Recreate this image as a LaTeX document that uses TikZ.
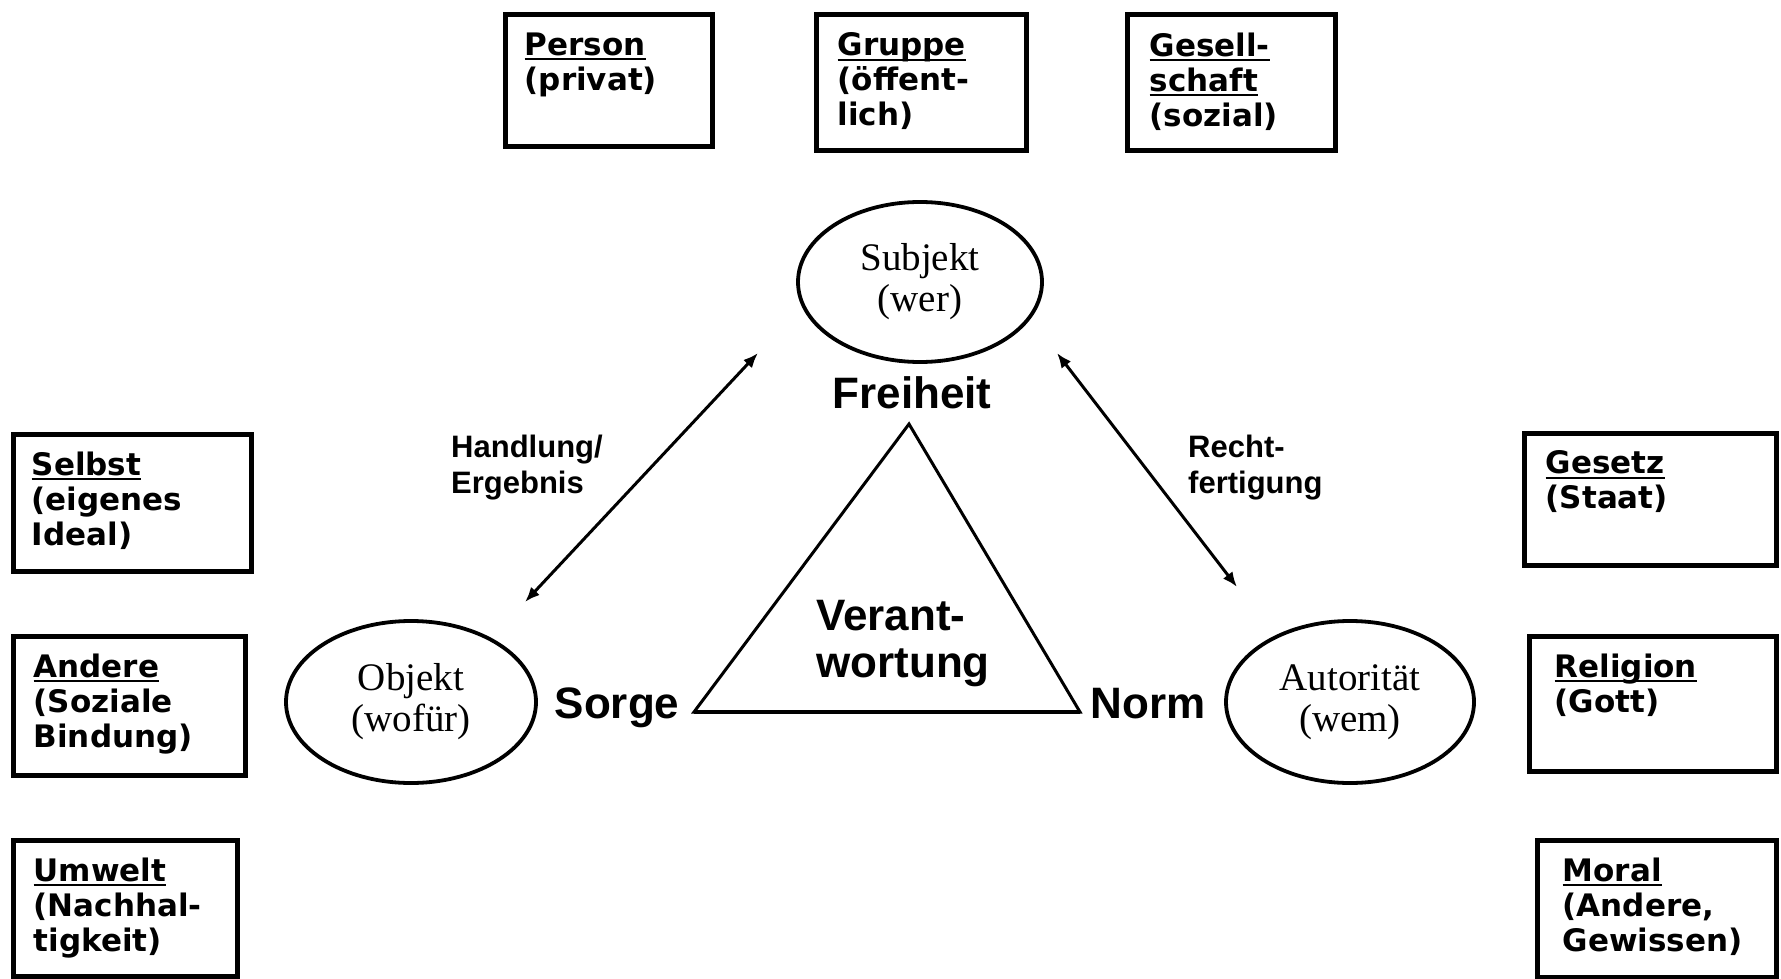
\documentclass[tikz,border=0pt]{standalone}
\usepackage{fontspec}
\setmainfont{Liberation Serif}
\newfontfamily\boxfont{DejaVu Sans}
\newfontfamily\lsans{Liberation Sans}
\usetikzlibrary{shapes.geometric,arrows.meta,calc}
\newcommand\ulw[1]{\setbox0=\hbox{#1}\rlap{\rule[-5pt]{\wd0}{2.2pt}}\box0}
\tikzset{
  boxst/.style={draw, line width=5pt, inner sep=0pt, rectangle},
  boxtxt/.style={anchor=north west, inner sep=0pt, align=left,
    font=\boxfont\bfseries\fontsize{31}{35}\selectfont},
  ell/.style={draw, ellipse, line width=3.8pt, inner sep=0pt, align=center,
    font=\fontsize{39}{41}\selectfont},
  bigtxt/.style={inner sep=0pt, font=\lsans\bfseries\fontsize{44}{47}\selectfont},
  midtxt/.style={inner sep=0pt, anchor=north west, align=left,
    font=\lsans\bfseries\fontsize{31}{36}\selectfont},
  arr/.style={{Latex[length=15pt,width=12pt]}-{Latex[length=15pt,width=12pt]}, line width=3pt},
}
\newcommand\mkbox[7]{%
  \node[boxst, minimum width={#4-#2}, minimum height={#5-#3}] (#1) at ({(#2+#4)/2},{(#3+#5)/2}) {};
  \node[boxtxt] (#1-t) at ($(#1.north west)+(#6,20)$) {#7};
}
\begin{document}
\begin{tikzpicture}[x=1pt,y=-1pt]
\useasboundingbox[fill=white] (0,0) rectangle (1781,979);
% top boxes
\mkbox{person}{505}{15}{712}{147}{22}{\ulw{Person}\\(privat)}
\mkbox{gruppe}{816}{15}{1026}{151}{24}{\ulw{Gruppe}\\(öffent-\\lich)}
\mkbox{gesell}{1127}{15}{1335}{151}{25}{\ulw{Gesell-}\\\ulw{schaft}\\(sozial)}
% left boxes
\mkbox{selbst}{13}{434}{251}{571}{21}{\ulw{Selbst}\\(eigenes\\Ideal)}
\mkbox{andere}{13}{636}{245}{775}{23}{\ulw{Andere}\\(Soziale\\Bindung)}
\mkbox{umwelt}{13}{840}{237}{976}{23}{\ulw{Umwelt}\\(Nachhal-\\tigkeit)}
% right boxes
\mkbox{gesetz}{1524}{433}{1776}{565}{24}{\ulw{Gesetz}\\(Staat)}
\mkbox{religion}{1529}{636}{1776}{771}{28}{\ulw{Religion}\\(Gott)}
\mkbox{moral}{1537}{840}{1776}{977}{28}{\ulw{Moral}\\(Andere,\\Gewissen)}
% ellipses
\node[ell, minimum width=244, minimum height=160] (subj) at (920,282) {Subjekt\\(wer)};
\node[ell, minimum width=250, minimum height=162] (obj) at (411,702) {Objekt\\(wofür)};
\node[ell, minimum width=248, minimum height=162] (aut) at (1350,702) {Autorität\\(wem)};
% triangle
\coordinate (apex) at (909,424);
\coordinate (bl) at (694,712);
\coordinate (br) at (1080,712);
\draw[line width=3pt, line join=miter] (apex) -- (br) -- (bl) -- cycle;
\draw[line width=4.5pt] (bl) -- (br);
% labels
\node[bigtxt] (frei) at (912,393) {Freiheit};
\node[bigtxt, anchor=base] (sorge) at (617,718) {Sorge};
\node[bigtxt, anchor=base] (norm) at (1148,718) {Norm};
\node[bigtxt, align=left] (verant) at (903,644) {Verant-\\wortung};
\node[midtxt] (handl) at (451,435) {Handlung/\\Ergebnis};
\node[midtxt] (recht) at (1188,435) {Recht-\\fertigung};
% arrows
\coordinate (a1) at (758,353);
\coordinate (a2) at (525,602);
\coordinate (b1) at (1057,353);
\coordinate (b2) at (1237,587);
\draw[arr] (a1) -- (a2);
\draw[arr] (b1) -- (b2);
\end{tikzpicture}
\end{document}
